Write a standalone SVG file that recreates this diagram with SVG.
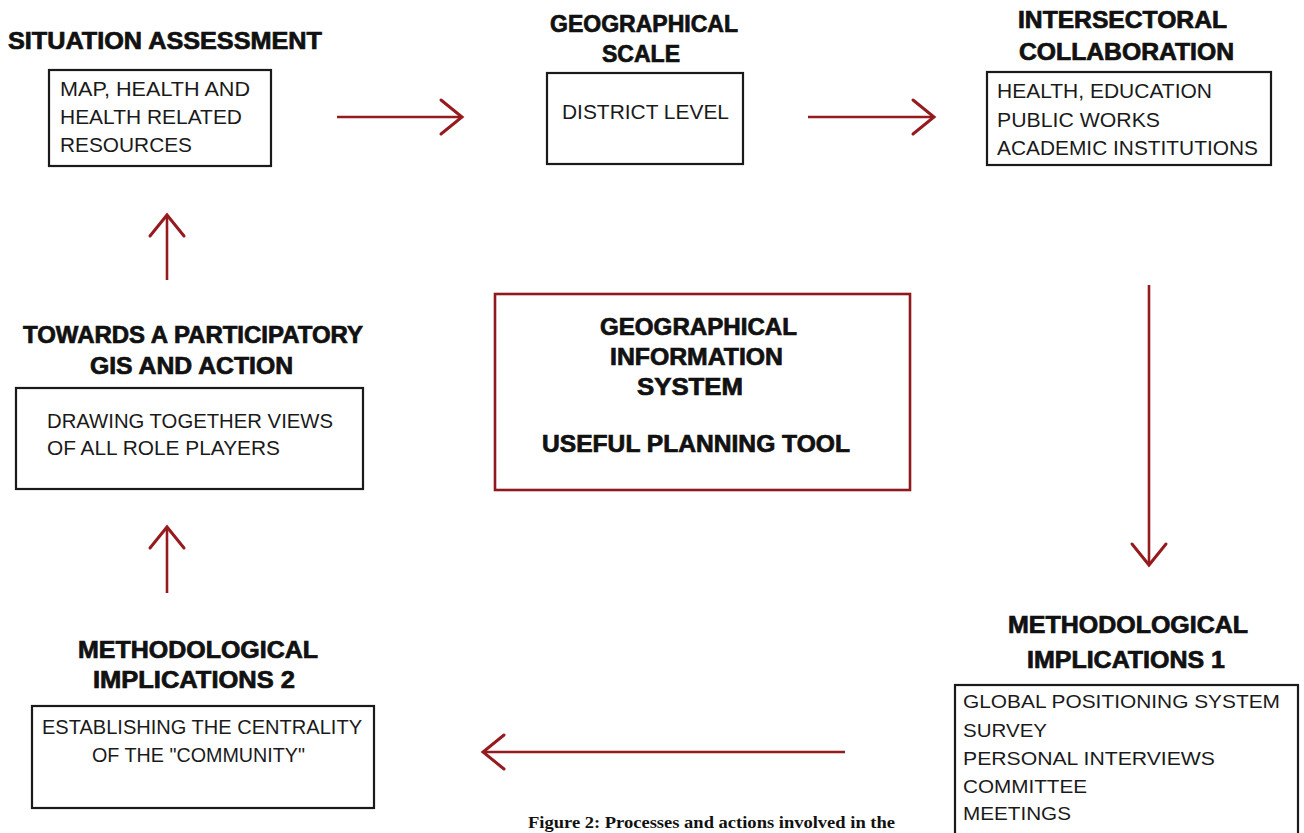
<svg xmlns="http://www.w3.org/2000/svg" width="1304" height="833" viewBox="0 0 1304 833">
<style>
.bg{fill:#ffffff}
.box{fill:none;stroke:#1a1a1a;stroke-width:2.2}
.core{fill:none;stroke:#8e1a1e;stroke-width:2.6}
.t{font-family:"Liberation Sans",Arial,sans-serif;font-weight:bold;font-size:23px;fill:#111;stroke:#111;stroke-width:0.7}
.b{font-family:"Liberation Sans",Arial,sans-serif;font-size:20px;fill:#1a1a1a}
.s{font-family:"Liberation Sans",Arial,sans-serif;font-size:19px;fill:#1a1a1a}
.cap{font-family:"Liberation Serif","Times New Roman",serif;font-weight:bold;font-size:17px;fill:#111}
.arr{fill:none;stroke:#951b1f;stroke-width:2.6;marker-end:url(#head)}
</style>
<defs>
<marker id="head" markerUnits="userSpaceOnUse" viewBox="0 0 30 40" markerWidth="30" markerHeight="40" refX="25" refY="20" orient="auto">
<path d="M4,3 L25,20 L4,37" fill="none" stroke="#951b1f" stroke-width="3" stroke-linecap="round" stroke-linejoin="miter"/>
</marker>
</defs>
<rect class="bg" x="0" y="0" width="1304" height="833"/>

<g id="connectors">
<line class="arr" x1="337" y1="117" x2="462" y2="117"/>
<line class="arr" x1="808" y1="117" x2="934" y2="117"/>
<line class="arr" x1="1149" y1="285" x2="1149" y2="565"/>
<line class="arr" x1="845" y1="752" x2="483" y2="752"/>
<line class="arr" x1="167" y1="593" x2="167" y2="527"/>
<line class="arr" x1="167" y1="280" x2="167" y2="215"/>
</g>

<g id="situation-assessment">
<text class="t" x="8" y="49" textLength="314" lengthAdjust="spacingAndGlyphs">SITUATION ASSESSMENT</text>
<rect class="box" x="49" y="70" width="222" height="96"/>
<text class="b" x="60" y="96" textLength="190" lengthAdjust="spacingAndGlyphs">MAP, HEALTH AND</text>
<text class="b" x="60" y="124" textLength="182" lengthAdjust="spacingAndGlyphs">HEALTH RELATED</text>
<text class="b" x="60" y="152" textLength="132" lengthAdjust="spacingAndGlyphs">RESOURCES</text>
</g>

<g id="geographical-scale">
<text class="t" x="550" y="32" textLength="188" lengthAdjust="spacingAndGlyphs">GEOGRAPHICAL</text>
<text class="t" x="602" y="62" textLength="78" lengthAdjust="spacingAndGlyphs">SCALE</text>
<rect class="box" x="547" y="73" width="196" height="91"/>
<text class="b" x="562" y="119" textLength="167" lengthAdjust="spacingAndGlyphs">DISTRICT LEVEL</text>
</g>

<g id="intersectoral-collaboration">
<text class="t" x="1018" y="28" textLength="209" lengthAdjust="spacingAndGlyphs">INTERSECTORAL</text>
<text class="t" x="1019" y="60" textLength="215" lengthAdjust="spacingAndGlyphs">COLLABORATION</text>
<rect class="box" x="987" y="72" width="284" height="93"/>
<text class="b" x="997" y="98" textLength="215" lengthAdjust="spacingAndGlyphs">HEALTH, EDUCATION</text>
<text class="b" x="997" y="127" textLength="163" lengthAdjust="spacingAndGlyphs">PUBLIC WORKS</text>
<text class="b" x="997" y="155" textLength="261" lengthAdjust="spacingAndGlyphs">ACADEMIC INSTITUTIONS</text>
</g>

<g id="participatory-gis">
<text class="t" x="23" y="343" textLength="340" lengthAdjust="spacingAndGlyphs">TOWARDS A PARTICIPATORY</text>
<text class="t" x="90" y="374" textLength="203" lengthAdjust="spacingAndGlyphs">GIS AND ACTION</text>
<rect class="box" x="16" y="388" width="347" height="101"/>
<text class="b" x="47" y="428" textLength="286" lengthAdjust="spacingAndGlyphs">DRAWING TOGETHER VIEWS</text>
<text class="b" x="47" y="455" textLength="233" lengthAdjust="spacingAndGlyphs">OF ALL ROLE PLAYERS</text>
</g>

<g id="gis-core">
<rect class="core" x="495" y="294" width="415" height="196"/>
<text class="t" x="600" y="335" textLength="197" lengthAdjust="spacingAndGlyphs">GEOGRAPHICAL</text>
<text class="t" x="610" y="365" textLength="173" lengthAdjust="spacingAndGlyphs">INFORMATION</text>
<text class="t" x="637" y="395" textLength="106" lengthAdjust="spacingAndGlyphs">SYSTEM</text>
<text class="t" x="542" y="452" textLength="308" lengthAdjust="spacingAndGlyphs">USEFUL PLANNING TOOL</text>
</g>

<g id="methodological-implications-1">
<text class="t" x="1008" y="633" textLength="240" lengthAdjust="spacingAndGlyphs">METHODOLOGICAL</text>
<text class="t" x="1027" y="668" textLength="198" lengthAdjust="spacingAndGlyphs">IMPLICATIONS 1</text>
<rect class="box" x="955" y="685" width="343" height="160"/>
<text class="s" x="963" y="708" textLength="317" lengthAdjust="spacingAndGlyphs">GLOBAL POSITIONING SYSTEM</text>
<text class="s" x="963" y="737" textLength="84" lengthAdjust="spacingAndGlyphs">SURVEY</text>
<text class="s" x="963" y="765" textLength="252" lengthAdjust="spacingAndGlyphs">PERSONAL INTERVIEWS</text>
<text class="s" x="963" y="793" textLength="124" lengthAdjust="spacingAndGlyphs">COMMITTEE</text>
<text class="s" x="963" y="820" textLength="108" lengthAdjust="spacingAndGlyphs">MEETINGS</text>
</g>

<g id="methodological-implications-2">
<text class="t" x="78" y="658" textLength="240" lengthAdjust="spacingAndGlyphs">METHODOLOGICAL</text>
<text class="t" x="93" y="688" textLength="202" lengthAdjust="spacingAndGlyphs">IMPLICATIONS 2</text>
<rect class="box" x="32" y="706" width="342" height="102"/>
<text class="b" x="42" y="734" textLength="320" lengthAdjust="spacingAndGlyphs">ESTABLISHING THE CENTRALITY</text>
<text class="b" x="92" y="762" textLength="213" lengthAdjust="spacingAndGlyphs">OF THE "COMMUNITY"</text>
</g>

<g id="caption">
<text class="cap" x="528" y="828" textLength="367" lengthAdjust="spacingAndGlyphs">Figure 2: Processes and actions involved in the</text>
</g>
</svg>
